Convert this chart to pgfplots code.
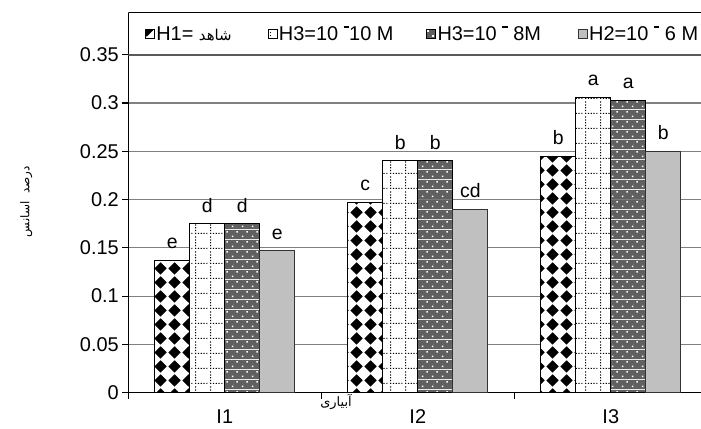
\documentclass[border=0pt]{standalone}
\usepackage{fontspec}
\setmainfont{Liberation Sans}
\newfontfamily\arabicfont[Script=Arabic]{DejaVu Sans}
\TeXXeTstate=1
\usepackage{pgfplots}
\pgfplotsset{compat=1.18}
\usetikzlibrary{patterns.meta}

\definecolor{gridgray}{RGB}{128,128,128}
\definecolor{bandgray}{RGB}{90,90,90}
\definecolor{darkchk}{RGB}{96,96,96}
\definecolor{lightbar}{RGB}{192,192,192}

% raised short minus used in the legend
\newcommand{\rminus}{\rule[12.4bp]{5.5bp}{1.5bp}}

% black diamonds on white
\tikzdeclarepattern{
  name=diamondgrid,
  type=uncolored,
  bottom left={(0bp,0bp)},
  top right={(14bp,14bp)},
  tile size={(14bp,14bp)},
  code={\fill (7bp,0.4bp) -- (13.6bp,7bp) -- (7bp,13.6bp) -- (0.4bp,7bp) -- cycle;}
}
% dotted grid
\tikzdeclarepattern{
  name=dotgrid,
  type=uncolored,
  bottom left={(0bp,0bp)},
  top right={(15bp,15bp)},
  tile size={(15bp,15bp)},
  code={\foreach \k in {0,3,6,9,12}{%
      \fill (\k bp,0bp) rectangle +(1.3bp,1.3bp);
      \fill (0bp,\k bp) rectangle +(1.3bp,1.3bp);}}
}
% dark grey with white dots
\tikzdeclarepattern{
  name=greydots,
  type=colored,
  bottom left={(0bp,0bp)},
  top right={(10bp,10bp)},
  tile size={(10bp,10bp)},
  code={\fill[darkchk] (0bp,0bp) rectangle (10bp,10bp);
    \fill[white] (2bp,2bp) rectangle +(1.6bp,1.6bp);
    \fill[white] (7bp,7bp) rectangle +(1.6bp,1.6bp);}
}

\begin{document}
\begin{tikzpicture}
\useasboundingbox (-128.3bp,-36.3bp) rectangle (572.7bp,392.7bp);
\begin{axis}[
  scale only axis,
  width=572.7bp, height=380bp,
  ybar=0pt, bar width=35bp,
  xmin=-0.5, xmax=2.4674, ymin=0, ymax=0.3934,
  enlargelimits=false,
  axis x line=bottom, axis y line=left,
  axis line style={-, black, line width=1.2bp},
  tick align=outside, major tick length=6bp,
  tick style={black, line width=1.2bp},
  ytick={0,0.05,0.1,0.15,0.2,0.25,0.3,0.35},
  yticklabels={0,0.05,0.1,0.15,0.2,0.25,0.3,0.35},
  ymajorgrids, grid style={gridgray, line width=1.2bp},
  xtick={0,1,2}, xticklabels={I1,I2,I3},
  major x tick style={draw=none},
  extra x ticks={-0.5,0.5,1.5}, extra x tick labels={,,},
  extra x tick style={major x tick style={draw=black}},
  ticklabel style={font=\fontsize{20}{21}\selectfont},
  xticklabel style={anchor=north, inner sep=0pt, yshift=-11bp},
  ylabel={\arabicfont\fontsize{12}{14}\selectfont\beginR درصد\ \ اسانس\endR},
  ylabel style={at={(axis description cs:-0.178,0.5026)}, anchor=center},
  xlabel={\arabicfont\fontsize{13}{15}\selectfont\beginR آبیاری\endR},
  xlabel style={at={(axis description cs:0.3627,-0.0245)}, anchor=center},
  nodes near coords,
  point meta=explicit symbolic,
  every node near coord/.append style={font=\fontsize{19.5}{20}\selectfont, inner sep=0pt, yshift=11bp, black},
  legend columns=4,
  legend style={draw=none, fill=none, at={(axis description cs:0.0292,0.944)}, anchor=west,
    inner sep=0pt, font=\fontsize{20}{21}\selectfont, nodes={inner sep=0pt},
    /tikz/every odd column/.append style={column sep=1.5bp},
    /tikz/every even column/.append style={column sep=0bp}},
  legend image code/.code={\draw[#1, line width=0.6bp] (0bp,-4.5bp) rectangle (9bp,4.5bp);},
]
\addplot[draw=black, line width=0.9bp, fill=white, postaction={pattern=diamondgrid, pattern color=black}]
  coordinates {(0,0.137) [e] (1,0.197) [c] (2,0.245) [b]};
\addplot[draw=black, line width=0.9bp, fill=white, postaction={pattern=dotgrid, pattern color=black}]
  coordinates {(0,0.175) [d] (1,0.240) [b] (2,0.306) [a]};
\addplot[draw=black, line width=0.9bp, pattern=greydots]
  coordinates {(0,0.175) [d] (1,0.240) [b] (2,0.303) [a]};
\addplot[draw=black!80, line width=0.9bp, fill=lightbar]
  coordinates {(0,0.147) [e] (1,0.190) [cd] (2,0.250) [b]};
\addlegendentry{\makebox[111.5bp][l]{H1= {\arabicfont\fontsize{15}{17}\selectfont\beginR شاهد\endR}}}
\addlegendentry{\makebox[147.5bp][l]{H3=10 \rminus10 M}}
\addlegendentry{\makebox[140.5bp][l]{H3=10 \rminus\ 8M}}
\addlegendentry{H2=10 \rminus\ 6 M}
\draw[bandgray, line width=2bp] (axis cs:-0.5,0.35) -- (axis cs:2.4674,0.35);
\draw[black, line width=1.2bp] (rel axis cs:0,1) -- (rel axis cs:1,1);
\end{axis}
\end{tikzpicture}
\end{document}
